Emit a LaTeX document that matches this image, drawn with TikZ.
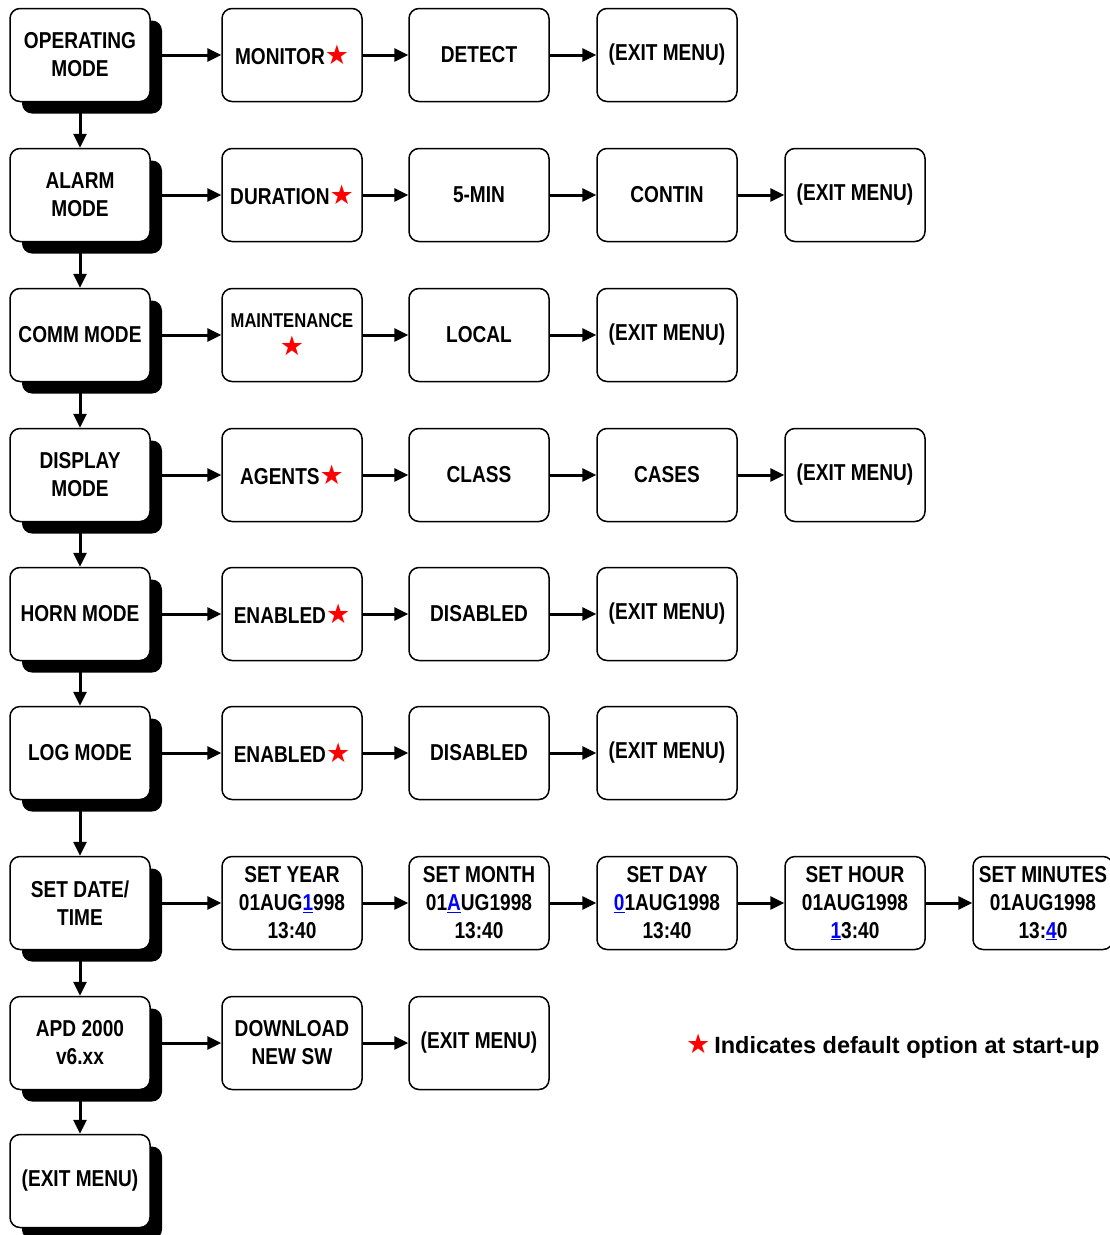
\documentclass[tikz,border=0pt]{standalone}
\usepackage{fontspec}
\setmainfont{Liberation Sans}[FakeStretch=0.83]
\newfontfamily\legendfont{Liberation Sans}
\newfontfamily\symfont{DejaVu Sans}
\usetikzlibrary{arrows.meta,shadows}
\newcommand{\dflt}{\textcolor{red}{\symfont\fontsize{27}{28}\selectfont ★}}
\newcommand{\cur}[1]{\textcolor{blue}{\underline{#1}}}
\begin{document}
\begin{tikzpicture}[x=1pt,y=-1pt,font=\fontsize{23}{28}\selectfont\bfseries,
  menubox/.style={draw,line width=1.5pt,rounded corners=10pt,fill=white,
    minimum width=140pt,minimum height=93pt,align=center,inner sep=2pt},
  modebox/.style={menubox,drop shadow={shadow xshift=12pt,shadow yshift=-12pt,
    fill=black,opacity=1}},
  arr/.style={line width=3pt,-{Triangle[length=14pt,width=13pt]}}]
  \useasboundingbox (0,0) rectangle (1110,1235);
  % mode column
  \node[modebox] (op) at (80,55) {OPERATING\\MODE};
  \node[modebox] (al) at (80,195) {ALARM\\MODE};
  \node[modebox] (cm) at (80,335) {COMM MODE};
  \node[modebox] (dp) at (80,475) {DISPLAY\\MODE};
  \node[modebox] (hn) at (80,614) {HORN MODE};
  \node[modebox] (lg) at (80,753) {LOG MODE};
  \node[modebox] (dt) at (80,903) {SET DATE/\\TIME};
  \node[modebox] (apd) at (80,1043) {APD 2000\\v6.xx};
  \node[modebox] (ex) at (80,1181) {(EXIT MENU)};
  % options
  \node[menubox] (op1) at (292,55) {MONITOR\dflt};
  \node[menubox] (op2) at (479,55) {DETECT};
  \node[menubox] (op3) at (667,55) {(EXIT MENU)};
  \node[menubox] (al1) at (292,195) {DURATION\dflt};
  \node[menubox] (al2) at (479,195) {5-MIN};
  \node[menubox] (al3) at (667,195) {CONTIN};
  \node[menubox] (al4) at (855,195) {(EXIT MENU)};
  \node[menubox] (cm1) at (292,335)
    {\fontsize{20}{27}\selectfont MAINTENANCE\\\dflt};
  \node[menubox] (cm2) at (479,335) {LOCAL};
  \node[menubox] (cm3) at (667,335) {(EXIT MENU)};
  \node[menubox] (dp1) at (292,475) {AGENTS\dflt};
  \node[menubox] (dp2) at (479,475) {CLASS};
  \node[menubox] (dp3) at (667,475) {CASES};
  \node[menubox] (dp4) at (855,475) {(EXIT MENU)};
  \node[menubox] (hn1) at (292,614) {ENABLED\dflt};
  \node[menubox] (hn2) at (479,614) {DISABLED};
  \node[menubox] (hn3) at (667,614) {(EXIT MENU)};
  \node[menubox] (lg1) at (292,753) {ENABLED\dflt};
  \node[menubox] (lg2) at (479,753) {DISABLED};
  \node[menubox] (lg3) at (667,753) {(EXIT MENU)};
  \node[menubox] (dt1) at (292,903) {SET YEAR\\01AUG\cur{1}998\\13:40};
  \node[menubox] (dt2) at (479,903) {SET MONTH\\01\cur{A}UG1998\\13:40};
  \node[menubox] (dt3) at (667,903) {SET DAY\\\cur{0}1AUG1998\\13:40};
  \node[menubox] (dt4) at (855,903) {SET HOUR\\01AUG1998\\\cur{1}3:40};
  \node[menubox] (dt5) at (1043,903) {SET MINUTES\\01AUG1998\\13:\cur{4}0};
  \node[menubox] (apd1) at (292,1043) {DOWNLOAD\\NEW SW};
  \node[menubox] (apd2) at (479,1043) {(EXIT MENU)};
  \node[anchor=west,inner sep=0pt] (key) at (686,1046)
    {\legendfont\fontsize{23.5}{27}\selectfont\bfseries\dflt\,Indicates default option at start-up};
  % down the mode column
  \draw[arr] (op.south) -- (al.north);
  \draw[arr] (al.south) -- (cm.north);
  \draw[arr] (cm.south) -- (dp.north);
  \draw[arr] (dp.south) -- (hn.north);
  \draw[arr] (hn.south) -- (lg.north);
  \draw[arr] (lg.south) -- (dt.north);
  \draw[arr] (dt.south) -- (apd.north);
  \draw[arr] (apd.south) -- (ex.north);
  % across each row
  \draw[arr] (op.east) -- (op1.west);
  \draw[arr] (op1.east) -- (op2.west);
  \draw[arr] (op2.east) -- (op3.west);
  \draw[arr] (al.east) -- (al1.west);
  \draw[arr] (al1.east) -- (al2.west);
  \draw[arr] (al2.east) -- (al3.west);
  \draw[arr] (al3.east) -- (al4.west);
  \draw[arr] (cm.east) -- (cm1.west);
  \draw[arr] (cm1.east) -- (cm2.west);
  \draw[arr] (cm2.east) -- (cm3.west);
  \draw[arr] (dp.east) -- (dp1.west);
  \draw[arr] (dp1.east) -- (dp2.west);
  \draw[arr] (dp2.east) -- (dp3.west);
  \draw[arr] (dp3.east) -- (dp4.west);
  \draw[arr] (hn.east) -- (hn1.west);
  \draw[arr] (hn1.east) -- (hn2.west);
  \draw[arr] (hn2.east) -- (hn3.west);
  \draw[arr] (lg.east) -- (lg1.west);
  \draw[arr] (lg1.east) -- (lg2.west);
  \draw[arr] (lg2.east) -- (lg3.west);
  \draw[arr] (dt.east) -- (dt1.west);
  \draw[arr] (dt1.east) -- (dt2.west);
  \draw[arr] (dt2.east) -- (dt3.west);
  \draw[arr] (dt3.east) -- (dt4.west);
  \draw[arr] (dt4.east) -- (dt5.west);
  \draw[arr] (apd.east) -- (apd1.west);
  \draw[arr] (apd1.east) -- (apd2.west);
\end{tikzpicture}
\end{document}
